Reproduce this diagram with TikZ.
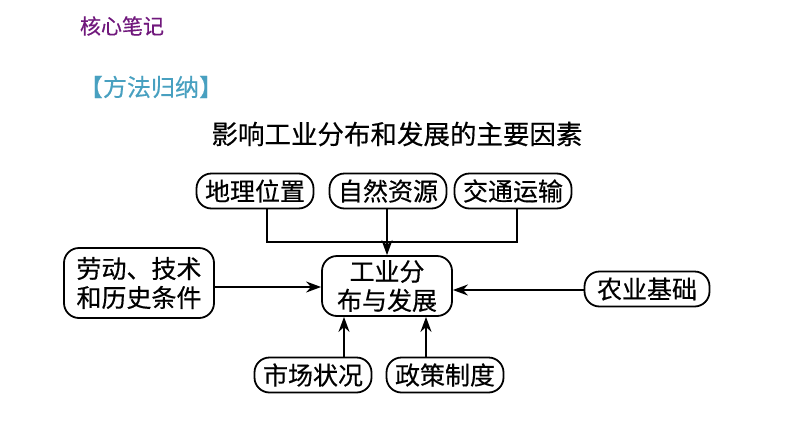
\documentclass[tikz,border=0pt]{standalone}
\usepackage{fontspec}
\newfontfamily\cjk{Noto Sans CJK SC}[FakeBold=0.4]
\usetikzlibrary{arrows.meta}
\definecolor{notepurple}{RGB}{112,24,124}
\definecolor{methodteal}{RGB}{72,160,192}
\tikzset{factor/.style = {draw, line width=1.8pt, rounded corners=15pt, inner xsep=4pt, inner ysep=2pt,
                          minimum height=35pt, minimum width=117pt, align=center,
                          font=\cjk\fontsize{25}{29}\selectfont}}
\tikzset{link/.style = {line width=1.8pt, -{Stealth[length=15pt,width=11pt]}}}
\begin{document}
\begin{tikzpicture}[x=1pt,y=-1pt]
    \useasboundingbox (0,0) rectangle (794,447);
    \node[text=notepurple, font=\cjk\fontsize{21}{24}\selectfont] (note) at (122,26) {核心笔记};
    \node[text=methodteal, font=\cjk\fontsize{24}{27}\selectfont] (method) at (151,87) {【方法归纳】};
    \node[font=\cjk\fontsize{26.5}{30}\selectfont] (title) at (397,134) {影响工业分布和发展的主要因素};
    % factors above
    \foreach \name/\x/\txt in {geo/255/地理位置, nature/388/自然资源, traffic/513/交通运输} {
        \node[factor] (\name) at (\x,191) {\txt};
    }
    \node[factor, minimum width=130pt, minimum height=60pt] (hub) at (387,286) {工业分\\布与发展};
    \node[factor, minimum width=150pt, minimum height=70pt] (labor) at (139,283) {劳动、技术\\和历史条件};
    \node[factor, minimum width=125pt] (agri) at (647,289) {农业基础};
    % factors below
    \foreach \name/\x/\txt in {market/313/市场状况, policy/445/政策制度} {
        \node[factor] (\name) at (\x,375) {\txt};
    }
    \coordinate (join) at (387,242);
    \draw[line width=1.8pt] (geo.south -| 267,0) |- (join);
    \draw[line width=1.8pt] (traffic.south -| 517,0) |- (join);
    \draw[link] (nature.south -| 387,0) -- (hub.north -| 387,0);
    \draw[link] (labor.east |- 0,287) -- (hub.west |- 0,287);
    \draw[link] (agri.west |- 0,290) -- (hub.east |- 0,290);
    \draw[link] (market.north -| 344,0) -- (hub.south -| 344,0);
    \draw[link] (policy.north -| 426,0) -- (hub.south -| 426,0);
\end{tikzpicture}
\end{document}
